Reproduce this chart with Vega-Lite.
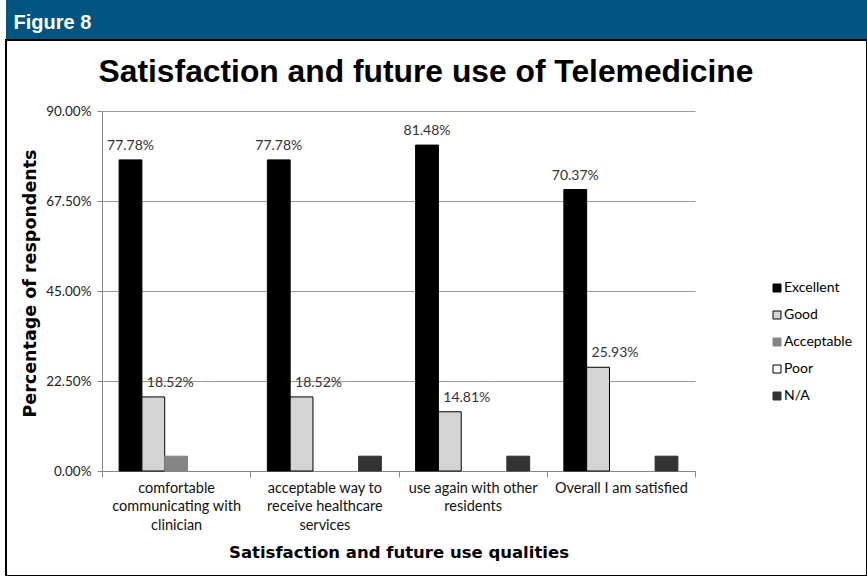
{
  "$schema": "https://vega.github.io/schema/vega-lite/v6.json",
  "padding": {"left": 5, "top": 0, "right": 0, "bottom": 0},
  "background": "white",
  "spacing": 0,
  "config": {"concat": {"spacing": 0}},
  "vconcat": [
    {
      "width": 862,
      "height": 39,
      "view": {"fill": "#005580", "stroke": null},
      "data": {"values": [{"t": "Figure 8"}]},
      "mark": {"type": "text", "opacity": 0},
      "encoding": {
        "text": {"field": "t"},
        "x": {
          "field": "t", "type": "nominal",
          "axis": {
            "orient": "bottom", "title": "Figure 8", "labels": false, "ticks": false, "domain": false, "grid": false,
            "titleX": 7, "titleY": -11, "titleAlign": "left", "titleAnchor": "start", "titleBaseline": "alphabetic",
            "titleColor": "white", "titleFont": "Liberation Sans", "titleFontSize": 20, "titleFontWeight": "bold"
          }
        }
      }
    },
    {
      "width": 861,
      "height": 536,
      "view": {"fill": "white", "stroke": "black", "strokeWidth": 2},
      "data": {"values": [
        {"q": "comfortable|communicating with|clinician", "r": "Excellent", "v": 0.7778},
        {"q": "comfortable|communicating with|clinician", "r": "Good", "v": 0.1852},
        {"q": "comfortable|communicating with|clinician", "r": "Acceptable", "v": 0.037},
        {"q": "comfortable|communicating with|clinician", "r": "Poor", "v": 0},
        {"q": "comfortable|communicating with|clinician", "r": "N/A", "v": 0},
        {"q": "acceptable way to|receive healthcare|services", "r": "Excellent", "v": 0.7778},
        {"q": "acceptable way to|receive healthcare|services", "r": "Good", "v": 0.1852},
        {"q": "acceptable way to|receive healthcare|services", "r": "Acceptable", "v": 0},
        {"q": "acceptable way to|receive healthcare|services", "r": "Poor", "v": 0},
        {"q": "acceptable way to|receive healthcare|services", "r": "N/A", "v": 0.037},
        {"q": "use again with other|residents", "r": "Excellent", "v": 0.8148},
        {"q": "use again with other|residents", "r": "Good", "v": 0.1481},
        {"q": "use again with other|residents", "r": "Acceptable", "v": 0},
        {"q": "use again with other|residents", "r": "Poor", "v": 0},
        {"q": "use again with other|residents", "r": "N/A", "v": 0.037},
        {"q": "Overall I am satisfied", "r": "Excellent", "v": 0.7037},
        {"q": "Overall I am satisfied", "r": "Good", "v": 0.2593},
        {"q": "Overall I am satisfied", "r": "Acceptable", "v": 0},
        {"q": "Overall I am satisfied", "r": "Poor", "v": 0},
        {"q": "Overall I am satisfied", "r": "N/A", "v": 0.037}
      ]},
      "resolve": {"axis": {"x": "independent"}},
      "encoding": {
        "xOffset": {
          "field": "r", "type": "nominal",
          "scale": {"domain": ["Excellent", "Good", "Acceptable", "Poor", "N/A"], "paddingInner": 0, "paddingOuter": 0.75}
        },
        "y": {
          "field": "v", "type": "quantitative",
          "scale": {"domain": [0, 0.9], "range": [431, 71], "nice": false},
          "axis": {
            "title": "Percentage of respondents",
            "offset": -96,
            "values": [0, 0.225, 0.45, 0.675, 0.9],
            "format": ".2%",
            "grid": true,
            "gridColor": "#999999",
            "domainColor": "#888888",
            "tickColor": "#888888",
            "tickSize": 5,
            "labelPadding": 6,
            "labelFont": "Lato",
            "labelFontSize": 13.5,
            "labelColor": "#222222",
            "titleFont": "DejaVu Sans",
            "titleFontSize": 17.5,
            "titleFontWeight": "bold",
            "titleColor": "black",
            "titleX": -67,
            "titleY": 243,
            "titleBaseline": "alphabetic"
          }
        }
      },
      "layer": [
        {
          "transform": [{"filter": "datum.v > 0"}],
          "mark": {"type": "bar", "strokeWidth": 1},
          "encoding": {
            "x": {
              "field": "q", "type": "nominal", "sort": null,
              "scale": {"range": [96, 689], "paddingInner": 0, "paddingOuter": 0},
              "axis": {
                "title": "Satisfaction and future use qualities",
                "orient": "bottom",
                "offset": -105,
                "tickBand": "extent",
                "tickSize": 6,
                "tickColor": "#888888",
                "domainColor": "#888888",
                "grid": false,
                "labelAngle": 0,
                "labelExpr": "split(datum.label, '|')",
                "labelFont": "Lato",
                "labelFontSize": 14.5,
                "labelLineHeight": 18.5,
                "labelPadding": 4,
                "labelColor": "#111111",
                "labelLimit": 0,
                "titleFont": "DejaVu Sans",
                "titleFontSize": 16.5,
                "titleFontWeight": "bold",
                "titleColor": "black",
                "titleY": 86,
                "titleBaseline": "alphabetic"
              }
            },
            "color": {
              "field": "r", "type": "nominal",
              "scale": {"domain": ["Excellent", "Good", "Acceptable", "Poor", "N/A"], "range": ["#000000", "#d4d4d4", "#858585", "#ffffff", "#333333"]},
              "legend": {
                "title": null, "orient": "none", "legendX": 764, "legendY": 281,
                "symbolType": "square", "symbolSize": 64, "symbolStrokeWidth": 1,
                "labelFont": "Lato", "labelFontSize": 14, "labelColor": "#000000",
                "labelOffset": 0, "rowPadding": 13, "padding": 0
              }
            },
            "stroke": {
              "field": "r", "type": "nominal",
              "scale": {"domain": ["Excellent", "Good", "Acceptable", "Poor", "N/A"], "range": ["#000000", "#000000", "#858585", "#000000", "#333333"]},
              "legend": {
                "title": null, "orient": "none", "legendX": 764, "legendY": 281,
                "symbolType": "square", "symbolSize": 64, "symbolStrokeWidth": 1,
                "labelFont": "Lato", "labelFontSize": 14, "labelColor": "#000000",
                "labelOffset": 0, "rowPadding": 13, "padding": 0
              }
            }
          }
        },
        {
          "transform": [{"filter": "datum.r == 'Excellent'"}],
          "mark": {"type": "text", "baseline": "alphabetic", "dy": -10, "font": "Lato", "fontSize": 14, "color": "#333333"},
          "encoding": {
            "x": {
              "field": "q", "type": "nominal", "sort": null,
              "scale": {"range": [96, 689], "paddingInner": 0, "paddingOuter": 0},
              "axis": {
                "orient": "top", "offset": 0,
                "title": "Satisfaction and future use of Telemedicine",
                "labels": false, "ticks": false, "domain": false, "grid": false,
                "titleX": 419.5, "titleY": 41, "titleAlign": "center", "titleBaseline": "alphabetic",
                "titleColor": "black", "titleFont": "Liberation Sans", "titleFontSize": 31.8, "titleFontWeight": "bold"
              }
            },
            "text": {"field": "v", "type": "quantitative", "format": ".2%"}
          }
        },
        {
          "transform": [{"filter": "datum.r == 'Good'"}],
          "mark": {"type": "text", "baseline": "alphabetic", "dy": -10, "dx": 17, "font": "Lato", "fontSize": 14, "color": "#333333"},
          "encoding": {
            "x": {
              "field": "q", "type": "nominal", "sort": null,
              "scale": {"range": [96, 689], "paddingInner": 0, "paddingOuter": 0},
              "axis": null
            },
            "text": {"field": "v", "type": "quantitative", "format": ".2%"}
          }
        }
      ]
    }
  ]
}
